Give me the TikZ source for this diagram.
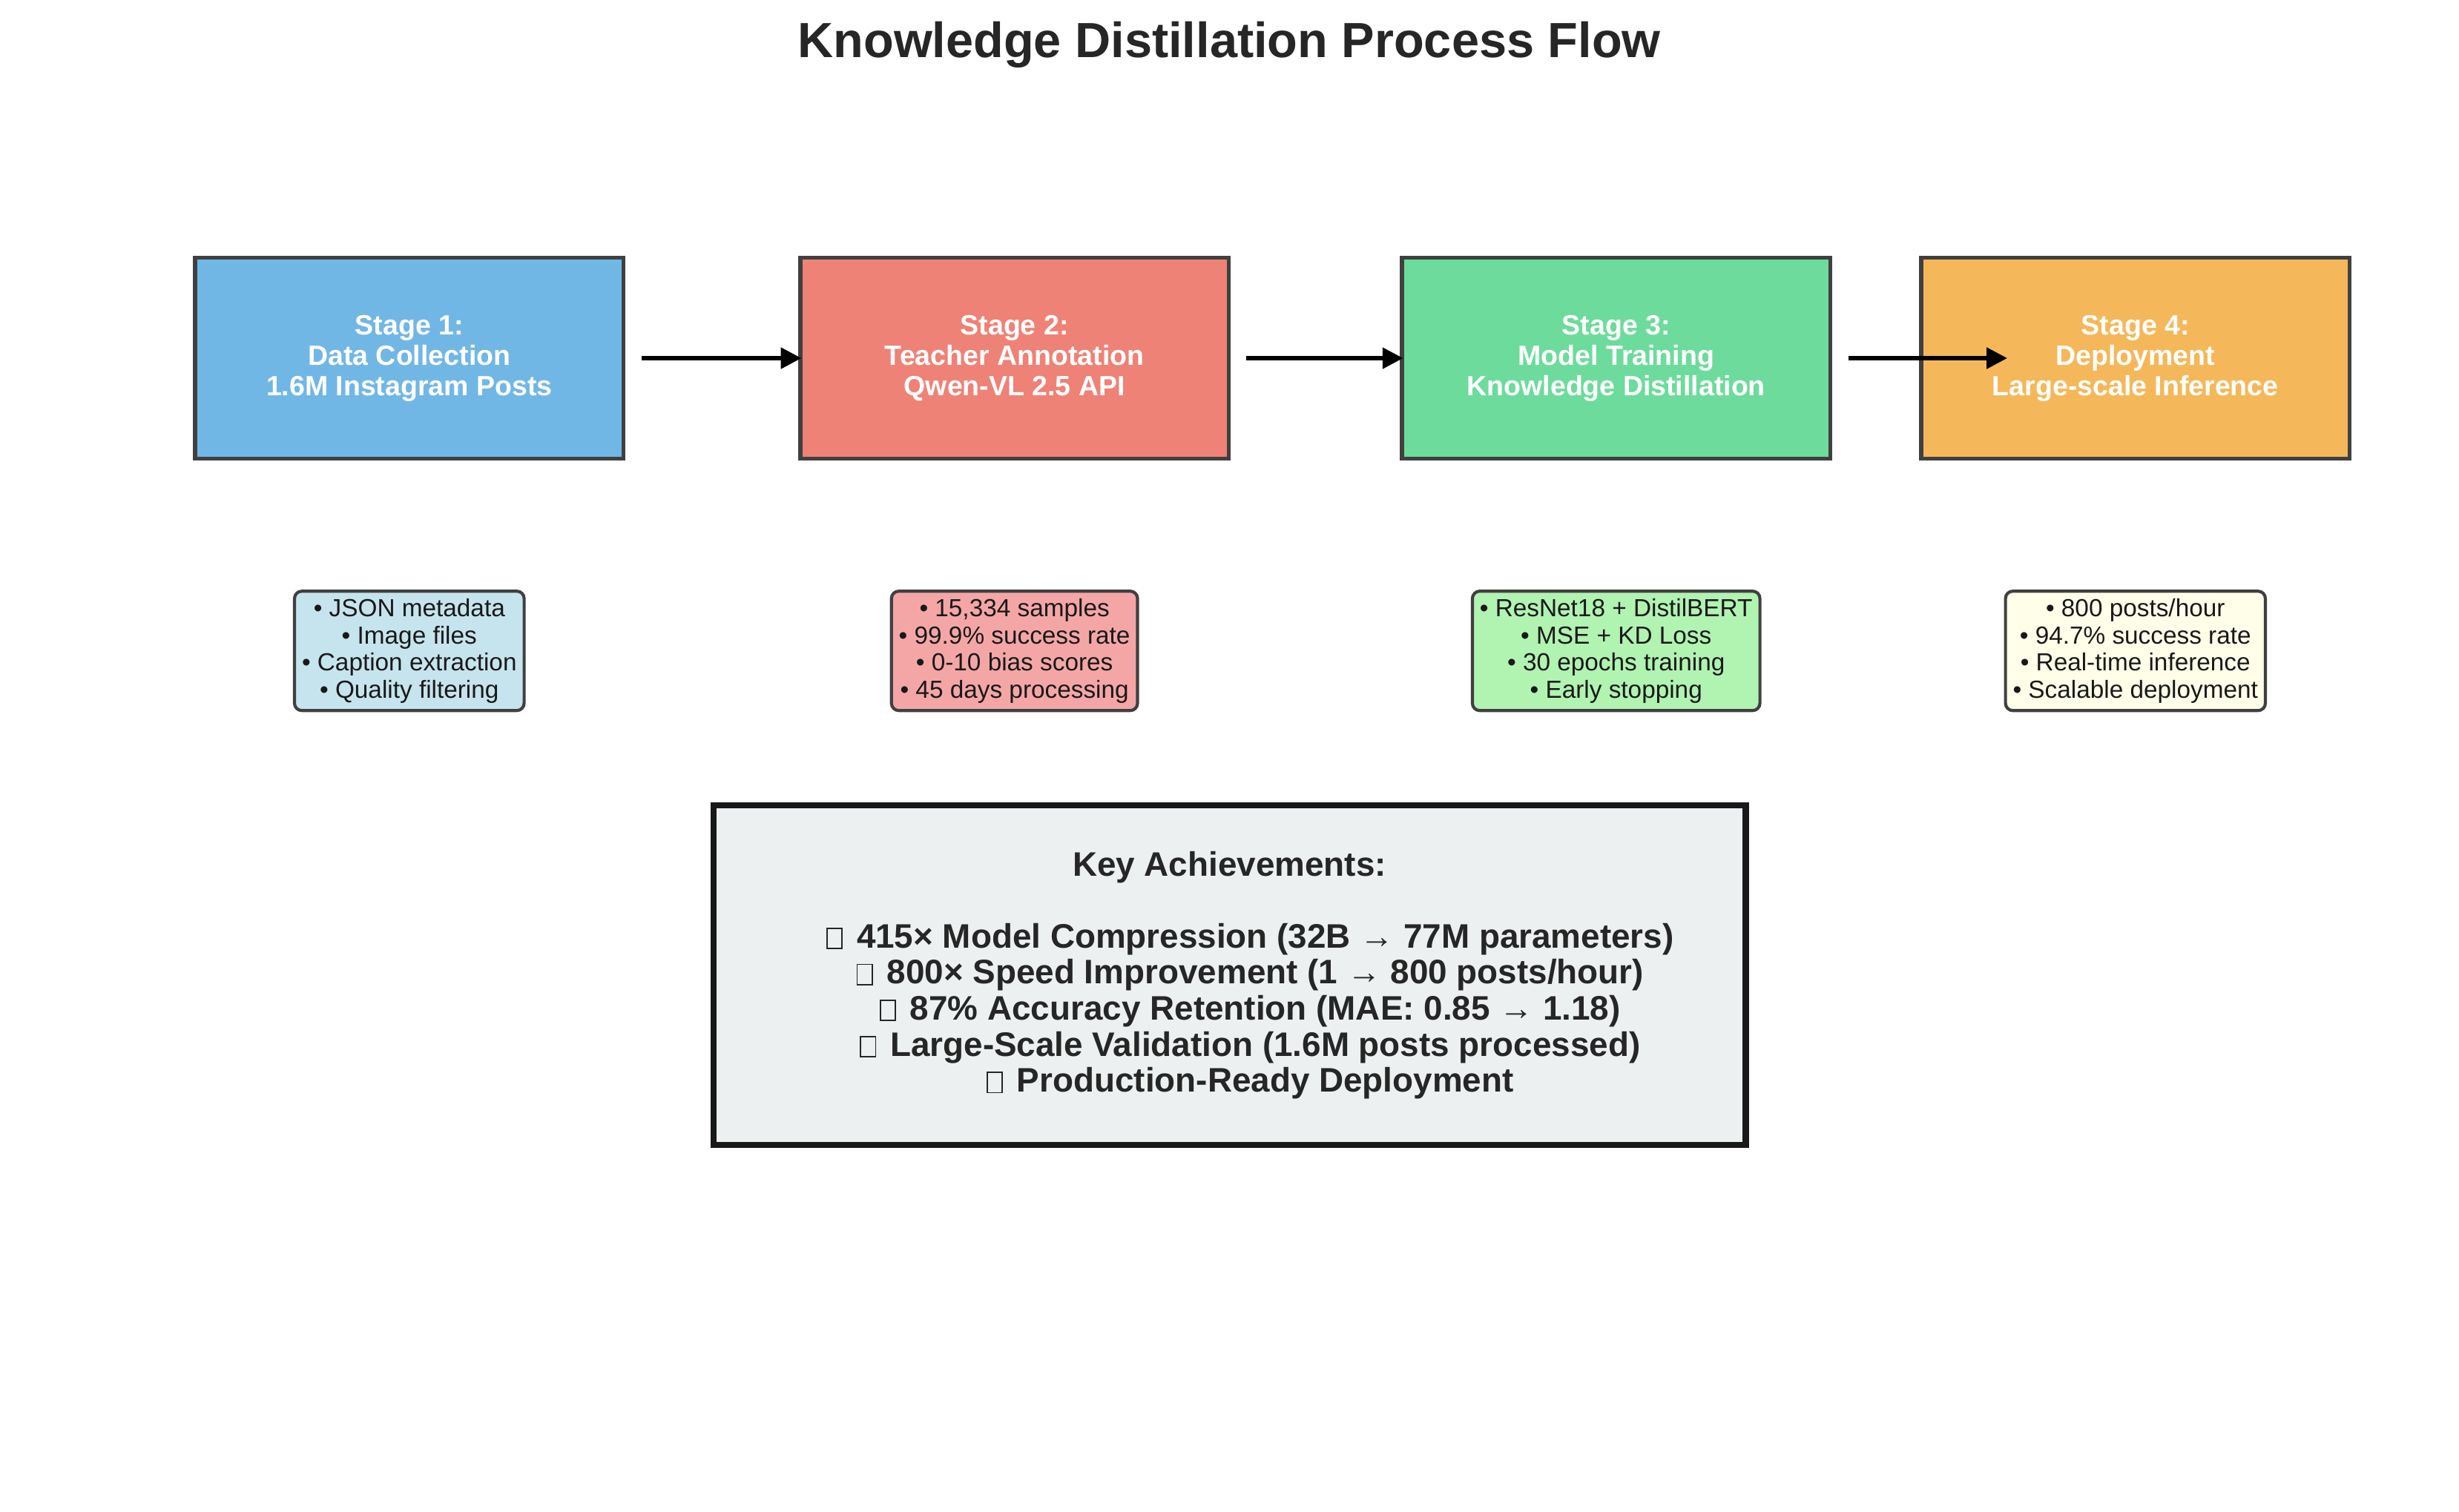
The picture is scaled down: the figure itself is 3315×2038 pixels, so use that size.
\documentclass[tikz,border=0pt]{standalone}
\usepackage{fontspec}
\setmainfont{Liberation Sans}
\usepackage{xcolor}
\usepackage{tikz}
\usetikzlibrary{arrows.meta,positioning}
\definecolor{stageblue}{HTML}{71B7E6}
\definecolor{stagered}{HTML}{EE8276}
\definecolor{stagegreen}{HTML}{6DDB9C}
\definecolor{stageorange}{HTML}{F4B85A}
\definecolor{noteblue}{HTML}{C6E4EE}
\definecolor{notered}{HTML}{F4A6A6}
\definecolor{notegreen}{HTML}{B1F3B1}
\definecolor{noteyellow}{HTML}{FFFFE9}
\definecolor{keyfill}{HTML}{ECF0F1}
% empty glyph box, as the emoji print in the reference
\newcommand\tofu{\hspace*{20pt}{\fboxsep=0pt\fboxrule=0.6pt\fbox{\rule{0pt}{9.2pt}\hspace{6.8pt}}}\hspace{6.8pt}}
\tikzset{
  stage/.style={rectangle, draw=black!75, line width=2pt, align=center,
    minimum width=208pt, minimum height=97.7pt, text=white,
    font=\bfseries\fontsize{13.5}{14.8}\selectfont},
  note/.style={rectangle, rounded corners=3.6pt, draw=black!75, line width=1.5pt,
    align=center, inner sep=3.6pt, text=black!90,
    font=\fontsize{12}{13.2}\selectfont},
  keybox/.style={rectangle, draw=black!90, line width=3pt, fill=keyfill,
    align=center, minimum width=501pt, minimum height=164.7pt, text=black!85,
    font=\bfseries\fontsize{16.5}{17.5}\selectfont},
  heading/.style={font=\bfseries\fontsize{24}{28}\selectfont, text=black!85},
  flow/.style={-{Triangle[length=10pt,width=10pt]}, line width=2pt, draw=black},
}

\begin{document}
\begin{tikzpicture}[x=0.36pt, y=-0.36pt]
  \useasboundingbox (0,0) rectangle (3315,2038);
  \node[heading] (title) at (1657,60) {Knowledge Distillation Process Flow};
  % stages
  \node[stage, fill=stageblue] (s1) at (551.8,483) {Stage 1:\\Data Collection\\1.6M Instagram Posts};
  \node[stage, fill=stagered, right=83.7pt of s1] (s2) {Stage 2:\\Teacher Annotation\\Qwen-VL 2.5 API};
  \node[stage, fill=stagegreen, right=82pt of s2] (s3) {Stage 3:\\Model Training\\Knowledge Distillation};
  \node[stage, fill=stageorange, right=42pt of s3] (s4) {Stage 4:\\Deployment\\Large-scale Inference};
  % details
  \node[note, fill=noteblue, below=62.5pt of s1] (d1) {• JSON metadata\\• Image files\\• Caption extraction\\• Quality filtering};
  \node[note, fill=notered, below=62.5pt of s2] (d2) {• 15,334 samples\\• 99.9\% success rate\\• 0-10 bias scores\\• 45 days processing};
  \node[note, fill=notegreen, below=62.5pt of s3] (d3) {• ResNet18 + DistilBERT\\• MSE + KD Loss\\• 30 epochs training\\• Early stopping};
  \node[note, fill=noteyellow, below=62.5pt of s4] (d4) {• 800 posts/hour\\• 94.7\% success rate\\• Real-time inference\\• Scalable deployment};
  \draw[flow] ([xshift=7.6pt]s1.east) -- ([xshift=1.6pt]s2.west);
  \draw[flow] ([xshift=7.6pt]s2.east) -- ([xshift=1.6pt]s3.west);
  \draw[flow] ([xshift=7.6pt]s3.east) -- ([xshift=42.8pt]s4.west);
  % summary
  \node[keybox] (key) at (1657.5,1315) {Key Achievements:\\[17.5pt]
    \tofu 415× Model Compression (32B → 77M parameters)\\
    \tofu 800× Speed Improvement (1 → 800 posts/hour)\\
    \tofu 87\% Accuracy Retention (MAE: 0.85 → 1.18)\\
    \tofu Large-Scale Validation (1.6M posts processed)\\
    \tofu Production-Ready Deployment};
\end{tikzpicture}
\end{document}
